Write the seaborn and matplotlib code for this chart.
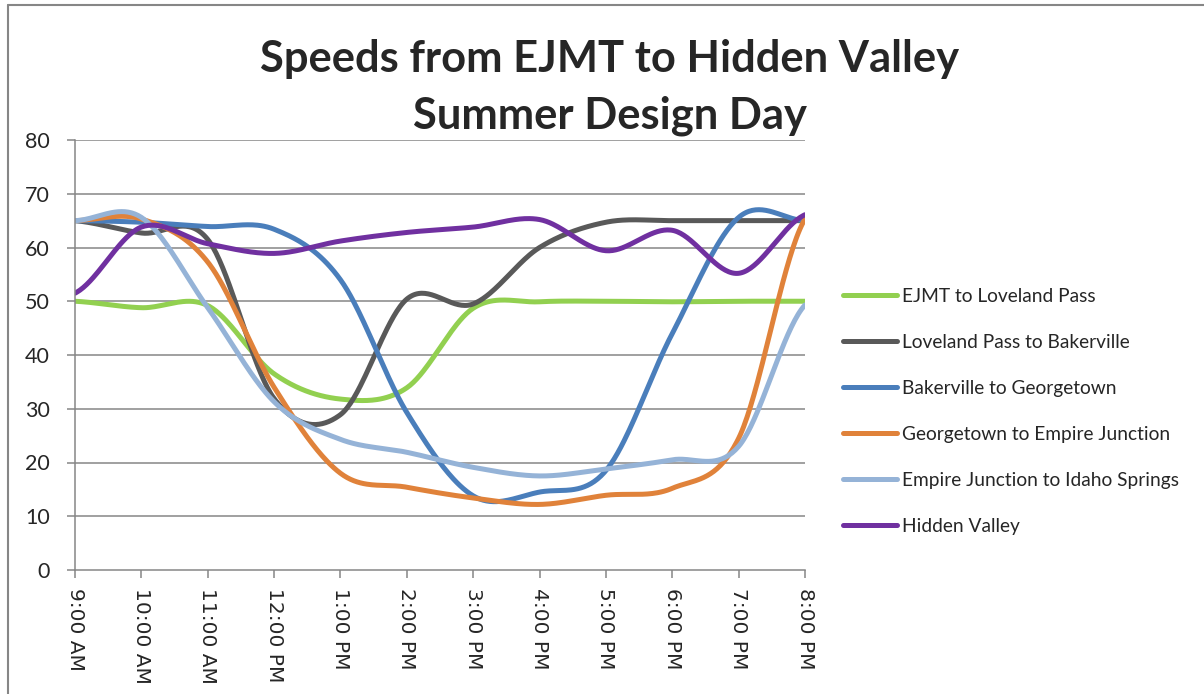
import numpy as np
import pandas as pd
import matplotlib
matplotlib.use("Agg")
import matplotlib.pyplot as plt
from matplotlib.lines import Line2D
import seaborn as sns

# ---------------- data ----------------
hours = ["9:00 AM", "10:00 AM", "11:00 AM", "12:00 PM", "1:00 PM", "2:00 PM",
         "3:00 PM", "4:00 PM", "5:00 PM", "6:00 PM", "7:00 PM", "8:00 PM"]
series_names = ["EJMT to Loveland Pass", "Loveland Pass to Bakerville",
                "Bakerville to Georgetown", "Georgetown to Empire Junction",
                "Empire Junction to Idaho Springs", "Hidden Valley"]
ejmt_loveland = [50, 48.8, 49.2, 36.5, 31.8, 33.9, 48.7, 49.9, 50, 49.9, 50, 50]
loveland_bakerville = [65, 62.7, 61.5, 31.9, 28.9, 50.4, 49.5, 60, 64.7, 65, 65, 65]
bakerville_georgetown = [65, 64.7, 63.9, 63.4, 54, 29.3, 13.8, 14.5, 18.5, 44, 65.6, 65]
georgetown_empire = [65, 65.3, 57.3, 34, 18, 15.4, 13.4, 12.2, 13.9, 15.2, 24.5, 65.3]
empire_idaho = [65, 65.6, 48.8, 31.3, 24.3, 21.9, 19.1, 17.5, 18.8, 20.5, 23, 49.3]
hidden_valley = [51.5, 63.8, 60.7, 58.9, 61.2, 62.8, 63.8, 65.2, 59.4, 63.2, 55.2, 66.1]
y_ticks = [0, 10, 20, 30, 40, 50, 60, 70, 80]

all_series = [ejmt_loveland, loveland_bakerville, bakerville_georgetown,
              georgetown_empire, empire_idaho, hidden_valley]
colors = ["#92D050", "#595959", "#4A7EBB", "#E0823A", "#95B3D7", "#7030A0"]


def smooth(vals, n=40):
    """Excel-style smoothed line (Catmull-Rom / cubic Bezier through the points)."""
    v = np.asarray(vals, dtype=float)
    p = np.concatenate([[v[0]], v, [v[-1]]])
    xs, ys = [], []
    for i in range(len(v) - 1):
        p0, p1, p2, p3 = p[i], p[i + 1], p[i + 2], p[i + 3]
        m1 = (p2 - p0) / 2.0
        m2 = (p3 - p1) / 2.0
        s = np.linspace(0, 1, n, endpoint=(i == len(v) - 2))
        h00 = 2 * s**3 - 3 * s**2 + 1
        h10 = s**3 - 2 * s**2 + s
        h01 = -2 * s**3 + 3 * s**2
        h11 = s**3 - s**2
        ys.append(h00 * p1 + h10 * m1 + h01 * p2 + h11 * m2)
        xs.append(i + s)
    return np.concatenate(xs), np.concatenate(ys)


rows = []
for name, vals in zip(series_names, all_series):
    xs, ys = smooth(vals)
    rows.append(pd.DataFrame({"t": xs, "speed": ys, "series": name}))
df = pd.concat(rows, ignore_index=True)

# ---------------- figure ----------------
sns.set_style("white")
plt.rcParams["font.family"] = ["Lato", "DejaVu Sans"]

W, H = 1204, 694
fig = plt.figure(figsize=(W / 100, H / 100), dpi=100)
fig.patch.set_facecolor("white")

ax = fig.add_axes([75 / W, 1 - 570 / H, (805 - 75) / W, (570 - 140) / H])

grid_c = "#868686"
for yv in y_ticks[1:]:
    ax.axhline(yv, color=grid_c, lw=1.1, zorder=0)

sns.lineplot(data=df, x="t", y="speed", hue="series", palette=dict(zip(series_names, colors)),
             hue_order=series_names, linewidth=3.6, sort=False, estimator=None,
             legend=False, ax=ax)
for ln in ax.lines:
    ln.set_solid_capstyle("round")

ax.set_xlim(0, len(hours) - 1)
ax.set_ylim(0, 80)
ax.set_xticks(range(len(hours)))
ax.set_xticklabels(hours, rotation=-90, ha="center", va="top",
                   family="DejaVu Sans", fontsize=14.5)
ax.set_yticks(y_ticks)
ax.set_yticklabels([str(v) for v in y_ticks], fontsize=15.5)
ax.set_xlabel("")
ax.set_ylabel("")

for side in ["top", "right"]:
    ax.spines[side].set_visible(False)
for side in ["left", "bottom"]:
    ax.spines[side].set_color(grid_c)
    ax.spines[side].set_linewidth(1.1)
ax.tick_params(axis="both", direction="out", length=6, width=1.1, color=grid_c,
               left=True, bottom=True)
ax.tick_params(axis="y", pad=12)
ax.tick_params(axis="x", pad=7)

# title
fig.text(610 / W, 1 - 39 / H, "Speeds from EJMT to Hidden Valley\nSummer Design Day",
         ha="center", va="top", fontsize=31.3, fontweight="bold", linespacing=1.5)

# legend
handles = [Line2D([0], [0], color=c, lw=3.6, solid_capstyle="round") for c in colors]
fig.legend(handles, series_names, loc="upper left",
           bbox_to_anchor=(843 / W, 1 - 288 / H), frameon=False, fontsize=13.8,
           handlelength=2.8, handletextpad=0.26, labelspacing=1.51,
           borderpad=0, borderaxespad=0)

# outer chart border (top and left visible in the crop)
fig.add_artist(Line2D([8 / W, 8 / W], [0, 1 - 5 / H], transform=fig.transFigure,
                      color=grid_c, lw=1.5))
fig.add_artist(Line2D([8 / W, 1], [1 - 5 / H, 1 - 5 / H], transform=fig.transFigure,
                      color=grid_c, lw=1.5))

fig.savefig("out.png", dpi=100)
